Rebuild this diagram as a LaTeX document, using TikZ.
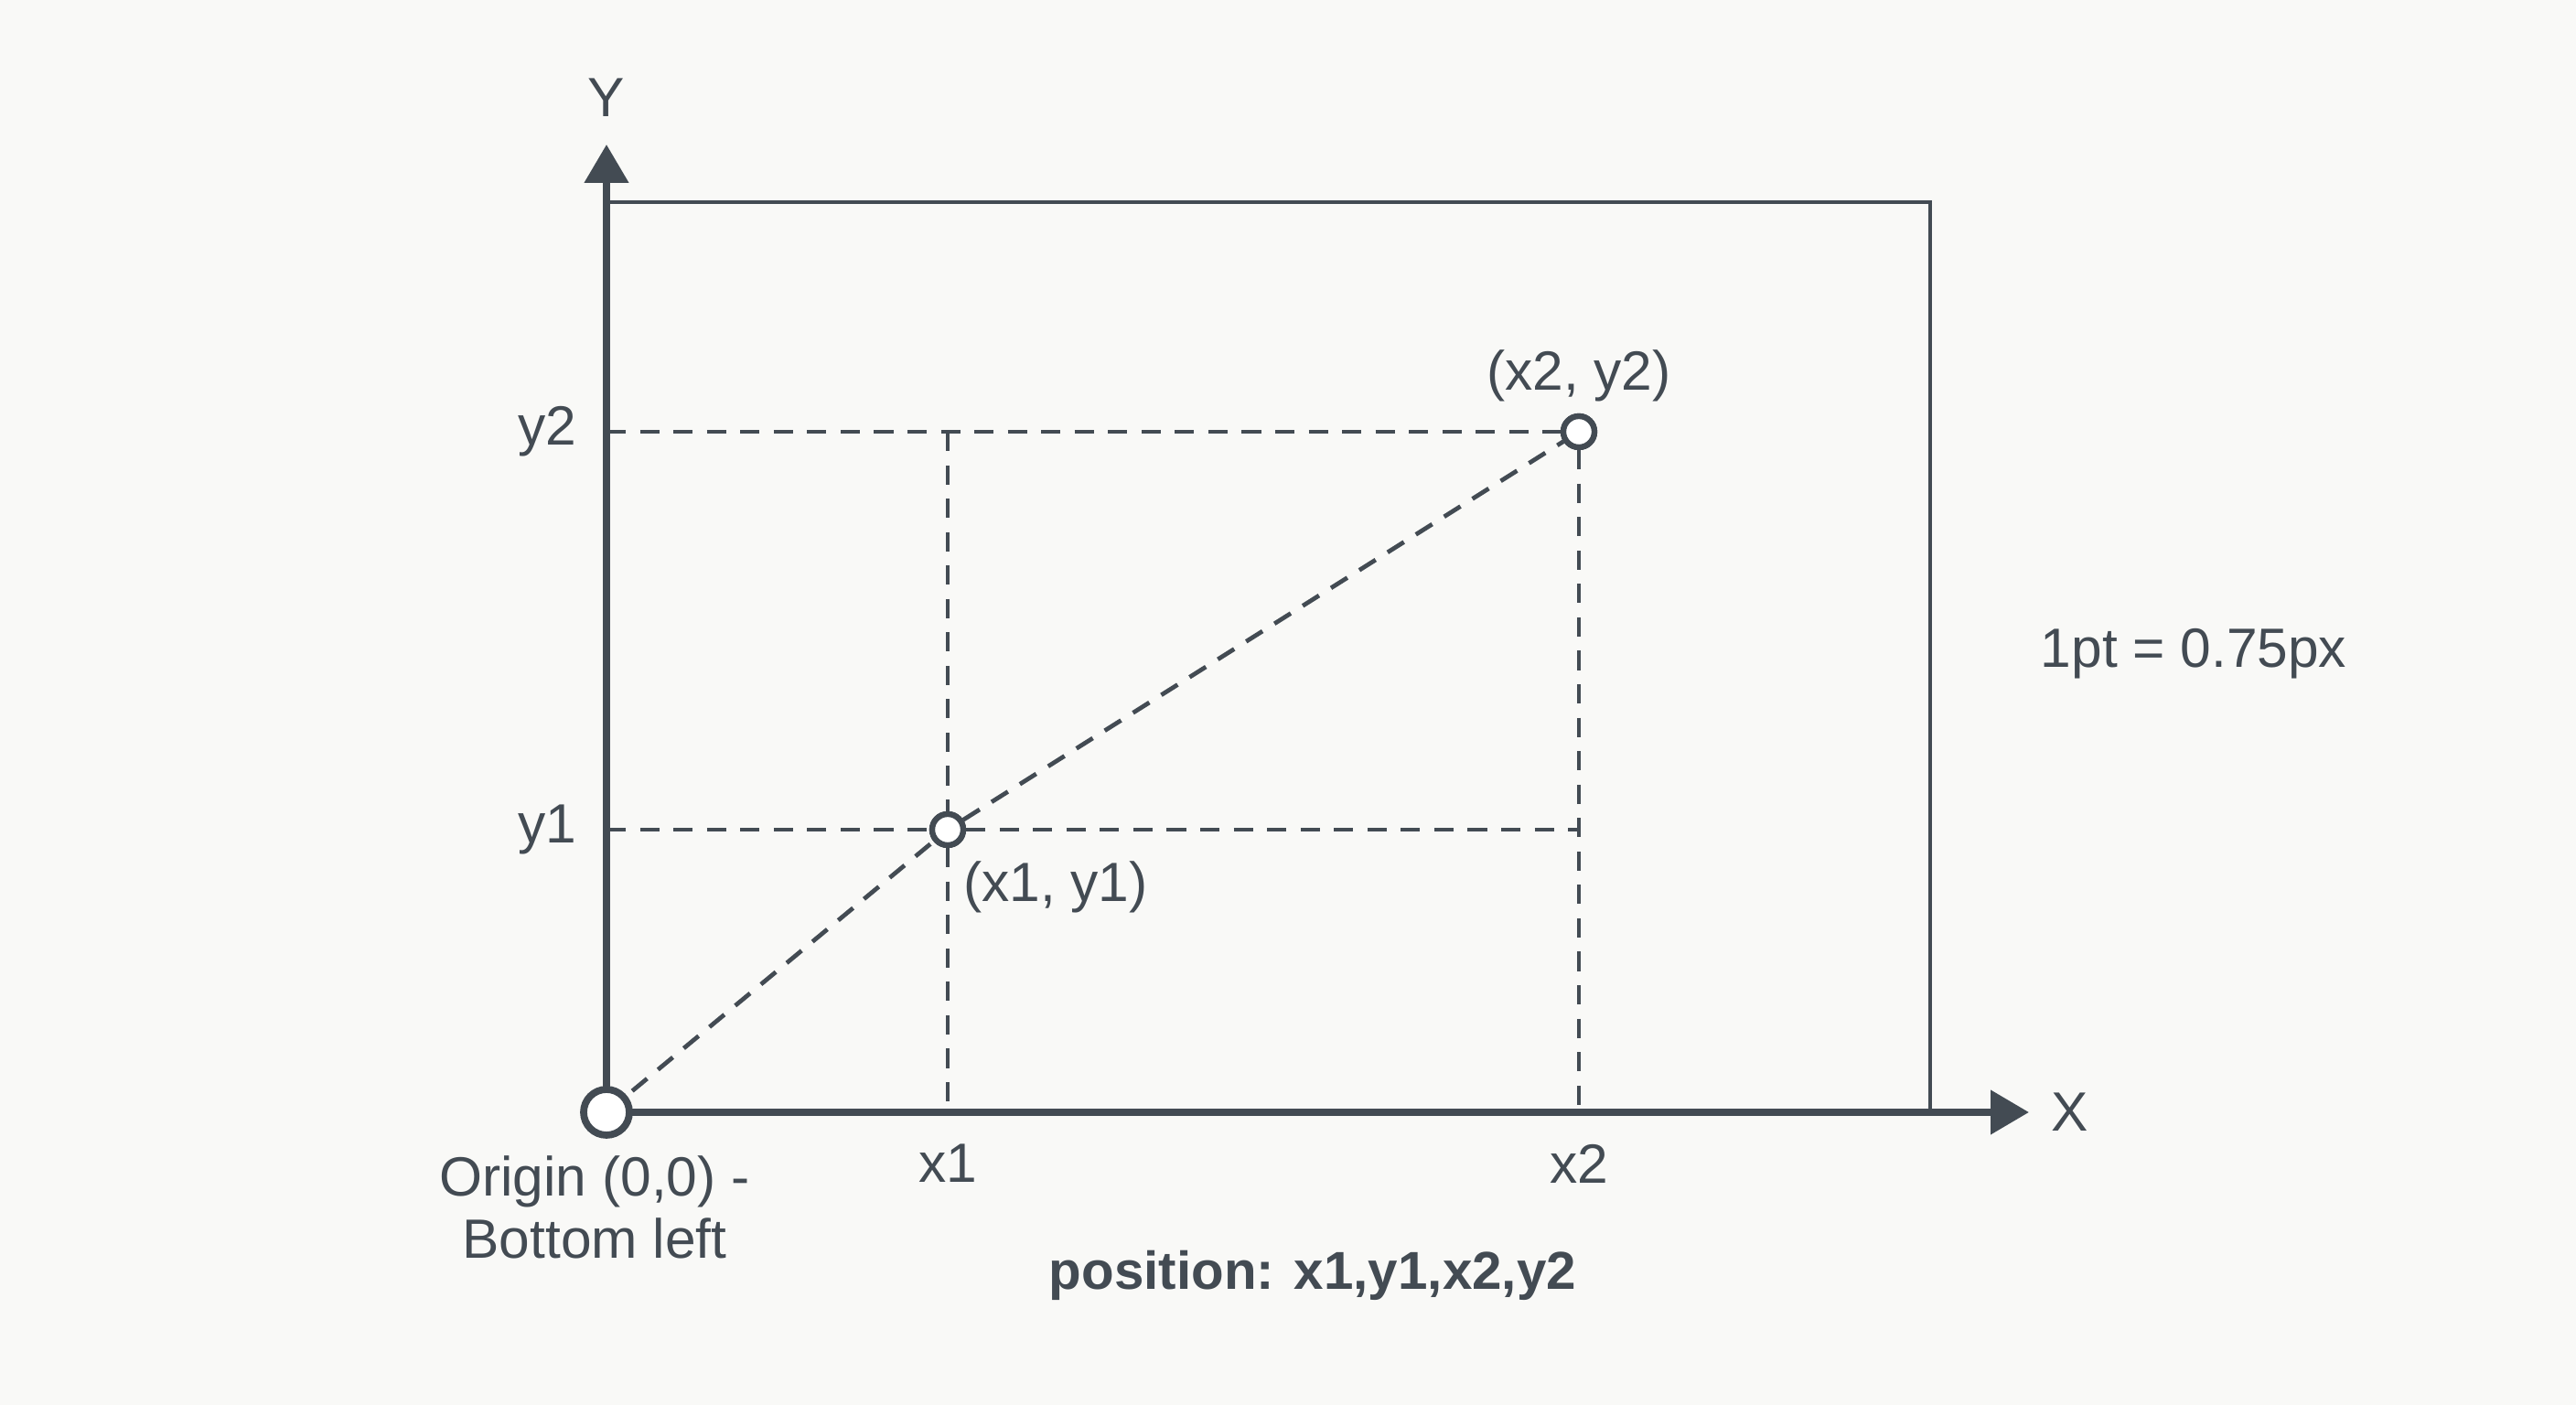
\documentclass[tikz,border=0pt]{standalone}
\usepackage{fontspec}
\setmainfont{Liberation Sans}
\usetikzlibrary{positioning, arrows.meta}
\definecolor{ink}{HTML}{434B53}
\definecolor{paper}{HTML}{F9F9F7}

\begin{document}
\begin{tikzpicture}[
  lbl/.style={text=ink, font=\fontsize{17.2}{19.5}\selectfont, inner sep=0pt},
  axisline/.style={draw=ink, line width=2.2pt, -{Triangle[length=4.2mm, width=4.7mm]}},
  frameline/.style={draw=ink, line width=1.3pt},
  guide/.style={draw=ink, line width=1.35pt, dash pattern=on 6pt off 4.4pt},
  pt/.style={circle, draw=ink, fill=white, line width=1.8pt, minimum size=3.4mm, inner sep=0pt},
  orig/.style={circle, draw=ink, fill=white, line width=2.2pt, minimum size=5mm, inner sep=0pt},
]
\fill[paper] (0,0) rectangle (28.16,15.36);
\useasboundingbox (0,0) rectangle (28.16,15.36);

\coordinate (o)   at (6.63,3.20);
\coordinate (ytip) at (6.63,13.78);
\coordinate (xtip) at (22.18,3.20);
\coordinate (ftr) at (21.10,13.15);
\coordinate (ya1) at (6.63,6.29);
\coordinate (ya2) at (6.63,10.64);
\coordinate (xa1) at (10.36,3.20);
\coordinate (xa2) at (17.26,3.20);

\draw[frameline] (o |- ftr) -- (ftr) -- (ftr |- o);

\node[pt] (p1) at (10.36,6.29) {};
\node[pt] (p2) at (17.26,10.64) {};

\draw[guide] (ya2) -- (p2);
\draw[guide] (ya1) -- (p1);
\draw[guide] (p1) -- (p1 -| p2);
\draw[guide] (p1 |- p2) -- (p1);
\draw[guide] (p1) -- (xa1);
\draw[guide] (p2) -- (xa2);
\draw[guide] (o) -- (p1);
\draw[guide] (p1) -- (p2);

\draw[axisline] (o) -- (ytip);
\draw[axisline] (o) -- (xtip);
\node[orig] (origin) at (o) {};
\node[pt] at (p1) {};
\node[pt] at (p2) {};

\node[lbl] (ylab) at (6.63,14.29) {Y};
\node[lbl] (xlab) at (22.63,3.20) {X};
\node[lbl] (y2lab) at (5.98,10.64) {y2};
\node[lbl] (y1lab) at (5.98,6.29) {y1};
\node[lbl] (x1lab) at (10.36,2.64) {x1};
\node[lbl] (x2lab) at (17.26,2.64) {x2};
\node[lbl] (p2lab) at (17.26,11.25) {(x2, y2)};
\node[lbl] (p1lab) at (11.54,5.66) {(x1, y1)};
\node[lbl] (ratio) at (23.98,8.21) {1pt = 0.75px};
\node[lbl, align=center] (origlab) at (6.50,2.16) {Origin (0,0) -\\Bottom left};
\node[lbl, font=\fontsize{16.6}{19.5}\selectfont\bfseries] (pos) at (14.35,1.42) {position: x1,y1,x2,y2};
\end{tikzpicture}
\end{document}
